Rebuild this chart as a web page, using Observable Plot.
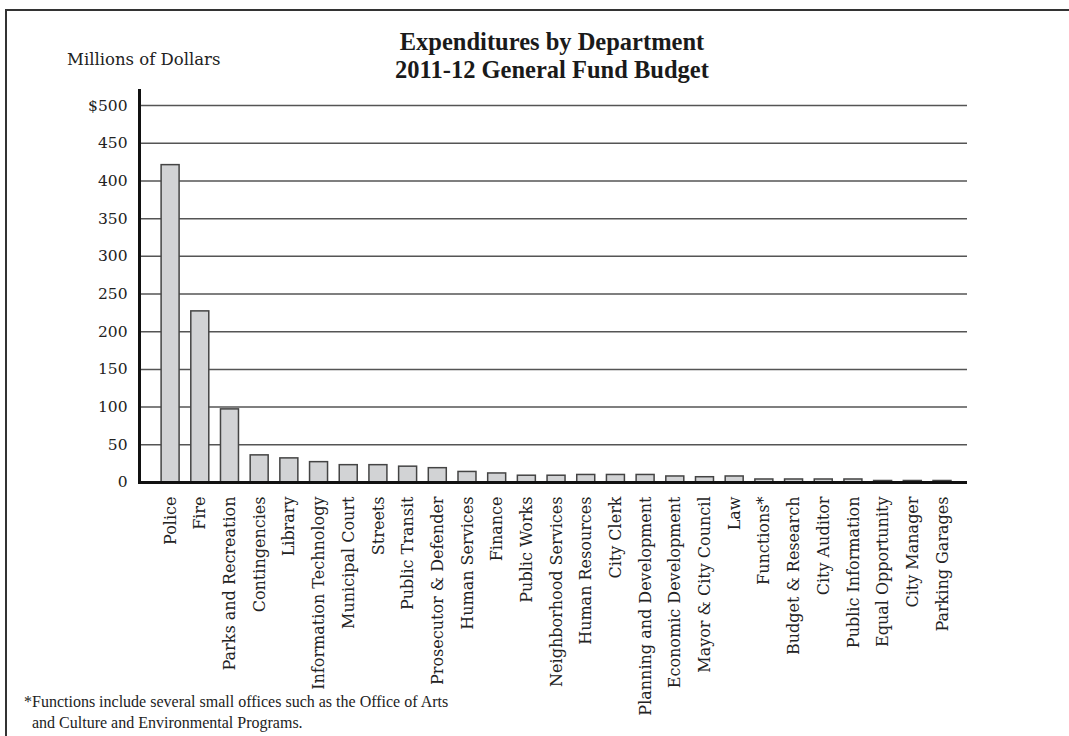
<!DOCTYPE html>
<html>
<head>
<meta charset="utf-8">
<script src="https://cdn.jsdelivr.net/npm/d3@7"></script>
<script src="https://cdn.jsdelivr.net/npm/@observablehq/plot@0.6"></script>
<style>
  html, body { margin: 0; padding: 0; background: #fff; }
  #wrap { position: relative; width: 1069px; height: 736px; overflow: hidden; background: #fff; }
  #border { position: absolute; left: 5px; top: 9px; width: 1100px; height: 800px;
            border-top: 2px solid #333; border-left: 2px solid #333; }
  #chart { position: absolute; left: 0; top: 0; }
  .title { position: absolute; left: 352px; width: 400px; top: 28px; text-align: center;
           font-family: "Liberation Serif", serif; font-weight: bold; font-size: 24.5px; line-height: 28px; color: #1a1a1a; }
  .ylab { position: absolute; left: 67px; top: 50px; font-family: "DejaVu Serif", serif; font-size: 16.5px; color: #222; line-height: 20px; }
  .foot { position: absolute; left: 24px; top: 691px; font-family: "Liberation Serif", serif; font-size: 16px; line-height: 21px; color: #222; }
</style>
</head>
<body>
<div id="wrap">
  <div id="border"></div>
  <div id="chart"></div>
  <div class="title">Expenditures by Department<br>2011-12 General Fund Budget</div>
  <div class="ylab">Millions of Dollars</div>
  <div class="foot">*Functions include several small offices such as the Office of Arts<br>&nbsp;&nbsp;and Culture and Environmental Programs.</div>
</div>
<script>
const departments = [
  "Police", "Fire", "Parks and Recreation", "Contingencies", "Library",
  "Information Technology", "Municipal Court", "Streets", "Public Transit",
  "Prosecutor & Defender", "Human Services", "Finance", "Public Works",
  "Neighborhood Services", "Human Resources", "City Clerk",
  "Planning and Development", "Economic Development", "Mayor & City Council",
  "Law", "Functions*", "Budget & Research", "City Auditor", "Public Information",
  "Equal Opportunity", "City Manager", "Parking Garages"
];
const expenditures = [
  421, 227, 97, 36, 32,
  27, 23, 23, 21,
  19, 14, 12, 9,
  9, 10, 10,
  10, 8, 7,
  8, 4, 4, 4, 4,
  2, 2, 2
];
const yTicks = [0, 50, 100, 150, 200, 250, 300, 350, 400, 450, 500];

const data = departments.map((d, i) => ({department: d, value: expenditures[i]}));

const chart = Plot.plot({
  width: 1069,
  height: 736,
  marginLeft: 139,
  marginRight: 102,
  marginTop: 90,
  marginBottom: 254,
  x: {domain: departments, paddingInner: 0.394, paddingOuter: 0.642, align: 0.58, round: false, label: null},
  y: {domain: [0, 520], label: null},
  style: {fontFamily: "DejaVu Serif", background: "transparent", color: "#222"},
  marks: [
    Plot.gridY(yTicks, {stroke: "#555", strokeOpacity: 1, strokeWidth: 1.5}),
    Plot.barY(data, {x: "department", y: "value", fill: "#d2d3d5", stroke: "#444", strokeWidth: 1.5}),
    Plot.ruleY([0], {stroke: "#111", strokeWidth: 3}),
    Plot.frame({anchor: "left", stroke: "#111", strokeWidth: 3}),
    Plot.axisY(yTicks, {tickSize: 0, tickPadding: 12, label: null, fontSize: 15.5,
      tickFormat: d => d === 500 ? "$500" : String(d)}),
    Plot.axisX({tickSize: 0, tickRotate: -90, tickPadding: 14, label: null, fontSize: 16})
  ]
});
document.getElementById("chart").appendChild(chart);
</script>
</body>
</html>
